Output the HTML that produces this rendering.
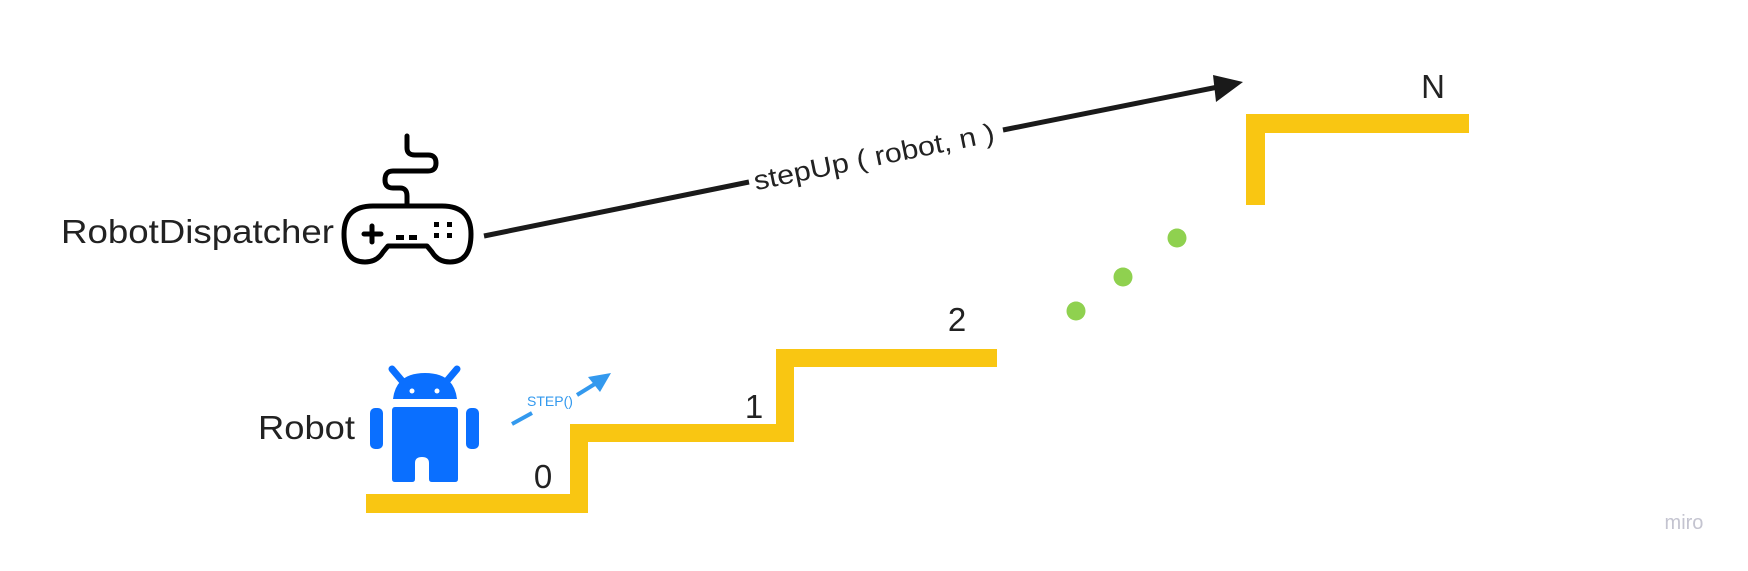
<!DOCTYPE html>
<html><head><meta charset="utf-8"><style>
html,body{margin:0;padding:0;background:#fff;width:1748px;height:571px;overflow:hidden}
svg{display:block;font-family:"Liberation Sans",sans-serif}
</style></head><body>
<svg width="1748" height="571" viewBox="0 0 1748 571">
<g fill="#f9c612">
<rect x="366" y="494" width="222" height="19"/>
<rect x="570" y="424" width="18" height="89"/>
<rect x="570" y="424" width="224" height="18"/>
<rect x="776" y="349" width="18" height="93"/>
<rect x="776" y="349" width="221" height="18"/>
<rect x="1246" y="114" width="19" height="91"/>
<rect x="1246" y="114" width="223" height="19"/>
</g>
<g fill="#222" font-size="33">
<text x="543" y="488" text-anchor="middle">0</text>
<text x="754" y="418" text-anchor="middle">1</text>
<text x="957" y="331" text-anchor="middle">2</text>
<text x="1433" y="98" text-anchor="middle">N</text>
<text x="61" y="243" textLength="273" lengthAdjust="spacingAndGlyphs">RobotDispatcher</text>
<text x="258" y="439" textLength="97" lengthAdjust="spacingAndGlyphs">Robot</text>
</g>
<g fill="#8fd14f">
<circle cx="1076" cy="311" r="9.5"/>
<circle cx="1123" cy="277" r="9.5"/>
<circle cx="1177" cy="238" r="9.5"/>
</g>
<g>
<line x1="484" y1="236" x2="749" y2="182" stroke="#1a1a1a" stroke-width="5"/>
<line x1="1003" y1="130" x2="1218" y2="87" stroke="#1a1a1a" stroke-width="5"/>
<polygon points="1243,82 1213,75 1216,102" fill="#1a1a1a"/>
<text x="874" y="166" font-size="27" fill="#222" text-anchor="middle" textLength="245" lengthAdjust="spacingAndGlyphs" transform="rotate(-11.5 874 157)">stepUp ( robot,  n )</text>
</g>
<g fill="none" stroke="#000" stroke-width="5" stroke-linecap="round" stroke-linejoin="round">
<path d="M407,136 V148 Q407,155 415,155 H428 Q436,155 436,163 Q436,171 428,171 H393 Q385,171 385,180 Q385,188 393,188 H400 Q407,188 407,196 V206"/>
<path d="M373,206 H442 Q471,206 471,234 Q471,262 450,262 Q438,262 432,252 L427,246 H388 L383,252 Q377,262 365,262 Q344,262 344,234 Q344,206 373,206 Z"/>
<path d="M364,234 H381 M372,226 V242"/>
</g>
<g fill="#000">
<rect x="396" y="235" width="8" height="5"/><rect x="409" y="235" width="8" height="5"/>
<rect x="434" y="222" width="5" height="5"/><rect x="447" y="222" width="5" height="5"/>
<rect x="434" y="233" width="5" height="5"/><rect x="447" y="233" width="5" height="5"/>
</g>
<g fill="#0a6fff">
<line x1="392" y1="369" x2="403" y2="382" stroke="#0a6fff" stroke-width="7" stroke-linecap="round"/>
<line x1="457" y1="369" x2="446" y2="382" stroke="#0a6fff" stroke-width="7" stroke-linecap="round"/>
<path d="M393,399 Q396,373 425,373 Q454,373 457,399 Z"/>
<circle cx="412" cy="391" r="2.5" fill="#fff"/><circle cx="437" cy="391" r="2.5" fill="#fff"/>
<path d="M395,407 H455 Q458,407 458,411 V479 Q458,482 455,482 H432 Q429,482 429,479 V463 Q429,457 422,457 Q415,457 415,463 V479 Q415,482 412,482 H395 Q392,482 392,479 V411 Q392,407 395,407 Z"/>
<rect x="370" y="408" width="13" height="41" rx="5"/>
<rect x="466" y="408" width="13" height="41" rx="5"/>
</g>
<g>
<line x1="512" y1="424" x2="532" y2="413" stroke="#3399ee" stroke-width="4"/>
<line x1="577" y1="395" x2="598" y2="382" stroke="#3399ee" stroke-width="4"/>
<polygon points="611,373 588,377 600,392" fill="#3399ee"/>
<text x="527" y="406" font-size="14" fill="#3399ee">STEP()</text>
</g>
<text x="1684" y="529" font-size="20" fill="#c4c4d0" text-anchor="middle">miro</text>
</svg>
</body></html>
